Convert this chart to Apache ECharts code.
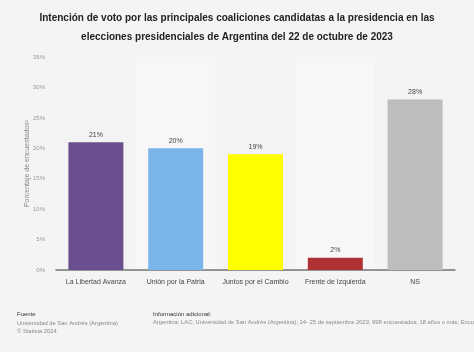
<!DOCTYPE html>
<html>
<head>
<meta charset="utf-8">
<script src="https://cdn.jsdelivr.net/npm/echarts@6/dist/echarts.min.js"></script>
<style>
  html, body { margin: 0; padding: 0; background: #f4f4f4; }
  #main { width: 474px; height: 352px; }
</style>
</head>
<body>
<div id="main"></div>
<script>
const categories = ['La Libertad Avanza', 'Unión por la Patria', 'Juntos por el Cambio', 'Frente de Izquierda', 'NS'];
const values = [21, 20, 19, 2, 28];
const barColors = ['#6b4e8e', '#7cb5ec', '#ffff00', '#ae3134', '#bdbdbd'];

window.onload = function () {
  const chartDom = document.getElementById('main');
  const myChart = echarts.init(chartDom);
  const option = {
    backgroundColor: '#f4f4f4',
    animation: false,
    title: {
      text: 'Intención de voto por las principales coaliciones candidatas a la presidencia en las\nelecciones presidenciales de Argentina del 22 de octubre de 2023',
      left: 'center',
      top: 4,
      textStyle: { fontFamily: 'Liberation Sans', fontSize: 10, fontWeight: 'bold', color: '#222', lineHeight: 19 }
    },
    grid: { left: 56, right: 19, top: 57, bottom: 82, outerBoundsMode: 'none' },
    xAxis: {
      type: 'category',
      data: categories,
      axisLine: { lineStyle: { color: '#777', width: 1.5 } },
      axisTick: { show: false },
      axisLabel: { interval: 0, color: '#444', fontSize: 7, fontFamily: 'Liberation Sans', margin: 9 },
      splitArea: { show: true, interval: 0, areaStyle: { color: ['#f3f3f3', '#f7f7f7'] } }
    },
    yAxis: {
      type: 'value',
      min: 0,
      max: 35,
      interval: 5,
      name: 'Porcentaje de encuestados¹',
      nameLocation: 'middle',
      nameGap: 25,
      nameMoveOverlap: false,
      nameTextStyle: { color: '#888', fontSize: 7, fontFamily: 'Liberation Sans' },
      axisLabel: { formatter: '{value}%', color: '#999', fontSize: 6, fontFamily: 'Liberation Sans', margin: 11 },
      splitLine: { lineStyle: { color: '#e4e4e4', width: 1 } },
      axisLine: { show: false },
      axisTick: { show: false }
    },
    series: [{
      type: 'bar',
      data: values.map((v, i) => ({ value: v, itemStyle: { color: barColors[i] } })),
      barWidth: 55,
      label: { show: true, position: 'top', formatter: '{c}%', color: '#444', fontSize: 7, fontFamily: 'Liberation Sans', distance: 4 }
    }],
    graphic: [
      { type: 'text', left: 17, top: 311, style: { text: 'Fuente', fill: '#333', fontSize: 6, fontFamily: 'Liberation Sans' } },
      { type: 'text', left: 17, top: 319, style: { text: 'Universidad de San Andrés (Argentina)\n© Statista 2024', fill: '#888', fontSize: 5.8, lineHeight: 8, fontFamily: 'Liberation Sans' } },
      { type: 'text', left: 153, top: 311, style: { text: 'Información adicional:', fill: '#333', fontSize: 6, fontFamily: 'Liberation Sans' } },
      { type: 'text', left: 153, top: 319, style: { text: 'Argentina; LAC; Universidad de San Andrés (Argentina); 14- 25 de septiembre 2023; 998 encuestados; 18 años o más; Encuesta online', fill: '#888', fontSize: 5.8, fontFamily: 'Liberation Sans' } }
    ]
  };
  option && myChart.setOption(option);
};
</script>
</body>
</html>
